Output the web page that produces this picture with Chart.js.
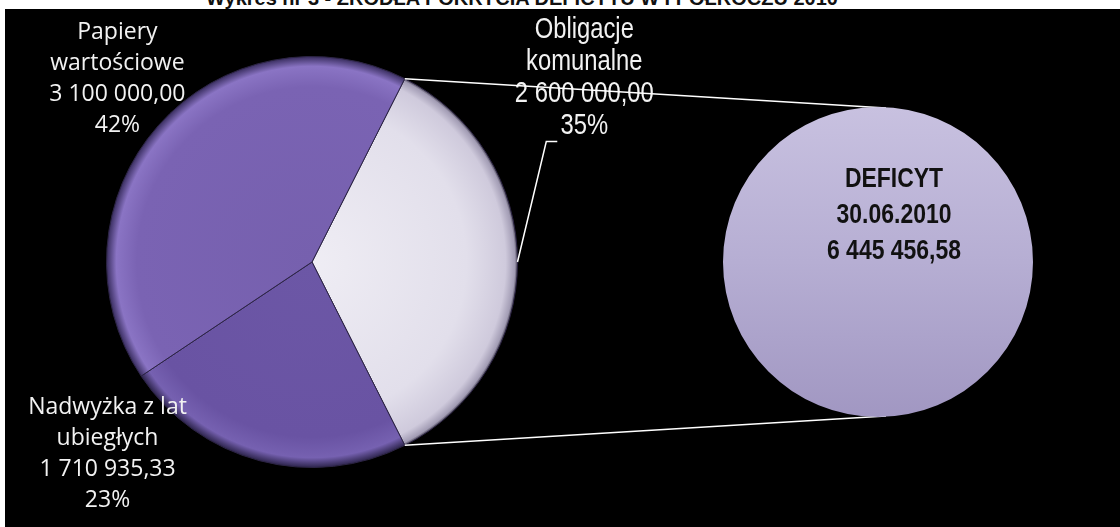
<!DOCTYPE html>
<html lang="pl">
<head>
<meta charset="utf-8">
<title>Źródła pokrycia deficytu</title>
<script src="https://cdn.jsdelivr.net/npm/chart.js@4.4.0/dist/chart.umd.min.js"></script>
<style>
  html, body { margin: 0; padding: 0; background: #fff; }
  #wrap { position: relative; width: 1120px; height: 527px; overflow: hidden; }
  #title { position: absolute; left: 0; width: 1044px; top: -13px; line-height: 20px;
           text-align: center; font: bold 20px "Liberation Sans", Arial, sans-serif; color: #111; }
  #panel { position: absolute; left: 5px; top: 9px; right: 0; bottom: 0; background: #000; }
  canvas { position: absolute; left: 0; top: 0; }
</style>
</head>
<body>
<div id="wrap">
  <div id="title">Wykres nr 3 - ŹRÓDŁA POKRYCIA DEFICYTU W I PÓŁROCZU 2010</div>
  <div id="panel"></div>
  <canvas id="pieCanvas" width="1120" height="527"></canvas>
  <canvas id="deficitCanvas" width="1120" height="527"></canvas>
</div>
<script>
// dane
const categories = ['Obligacje komunalne', 'Nadwyżka z lat ubiegłych', 'Papiery wartościowe'];
const labelLines = [['Obligacje', 'komunalne'], ['Nadwyżka z lat', 'ubiegłych'], ['Papiery', 'wartościowe']];
const amounts = [2600000.00, 1710935.33, 3100000.00];
const deficitLines = ['DEFICYT', '30.06.2010'];
const deficitAmount = [6445456.58];

const total = amounts.reduce((a, b) => a + b, 0);

function plNumber(v) {
    const parts = v.toFixed(2).split('.');
    return parts[0].replace(/\B(?=(\d{3})+(?!\d))/g, ' ') + ',' + parts[1];
}

// tekst "waski" - Liberation Sans sciesniony w poziomie
function drawText(ctx, t, x, y, sx) {
    ctx.save();
    ctx.translate(x, y);
    ctx.scale(sx, 1);
    ctx.fillText(t, 0, 0);
    ctx.restore();
}

// wyglad etykiet (pozycja wzgledem srodka kola, w promieniach)
const labelStyle = [
    { dx: 1.325, dy: -0.893, font: '29px "Liberation Sans", Arial, sans-serif', sx: 0.82, lineH: 32,
      leader: [[-38, 63], [-27, 63]] },
    { dx: -0.995, dy: 0.932, font: '23px "Open Sans", "Noto Sans", sans-serif', sx: 1, lineH: 31 },
    { dx: -0.947, dy: -0.893, font: '23px "Open Sans", "Noto Sans", sans-serif', sx: 1, lineH: 31 }
];

const sliceStops = [
    [[0, '#efedf4'], [0.75, '#e2dfeb'], [0.94, '#cfcadc'], [0.985, '#a29cb4'], [1, '#3a3645']],
    [[0, '#6c57a6'], [0.85, '#6953a3'], [0.95, '#7661b1'], [1, '#2a2248']],
    [[0, '#7660ae'], [0.85, '#7a63b3'], [0.95, '#8a74c4'], [1, '#352a5a']]
];

function sliceFill(context) {
    const chart = context.chart;
    const area = chart.chartArea;
    if (!area) return sliceStops[context.dataIndex][1][1];
    const cx = (area.left + area.right) / 2;
    const cy = (area.top + area.bottom) / 2;
    const r = Math.min(area.right - area.left, area.bottom - area.top) / 2;
    const g = chart.ctx.createRadialGradient(cx, cy, 0, cx, cy, r);
    sliceStops[context.dataIndex].forEach(s => g.addColorStop(s[0], s[1]));
    return g;
}

const labelsPlugin = {
    id: 'sliceLabels',
    afterDatasetsDraw(chart) {
        const ctx = chart.ctx;
        const meta = chart.getDatasetMeta(0);
        meta.data.forEach((arc, i) => {
            const st = labelStyle[i];
            const r = arc.outerRadius;
            const ax = arc.x + st.dx * r;
            const ay = arc.y + st.dy * r;
            const lines = labelLines[i].concat([plNumber(amounts[i]), Math.round(amounts[i] / total * 100) + '%']);
            ctx.save();
            ctx.fillStyle = '#f2f2f2';
            ctx.font = st.font;
            ctx.textAlign = 'center';
            ctx.textBaseline = 'middle';
            lines.forEach((t, k) => {
                drawText(ctx, t, ax, ay + (k - (lines.length - 1) / 2) * st.lineH, st.sx);
            });
            if (st.leader) {
                const mid = (arc.startAngle + arc.endAngle) / 2;
                ctx.strokeStyle = '#ffffff';
                ctx.lineWidth = 1.5;
                ctx.beginPath();
                ctx.moveTo(arc.x + Math.cos(mid) * r, arc.y + Math.sin(mid) * r);
                st.leader.forEach(p => ctx.lineTo(ax + p[0], ay + p[1]));
                ctx.stroke();
            }
            ctx.restore();
        });
    }
};

const pieChart = new Chart(document.getElementById('pieCanvas'), {
    type: 'pie',
    data: {
        labels: categories,
        datasets: [{
            data: amounts,
            backgroundColor: sliceFill,
            borderColor: '#2c2444',
            borderWidth: 1
        }]
    },
    options: {
        responsive: false,
        devicePixelRatio: 1,
        animation: false,
        rotation: 90 - (amounts[0] / total * 360) / 2,
        layout: { padding: { left: 106, right: 602, top: 56, bottom: 59 } },
        plugins: { legend: { display: false }, tooltip: { enabled: false } }
    },
    plugins: [labelsPlugin]
});

function deficitFill(context) {
    const chart = context.chart;
    const area = chart.chartArea;
    if (!area) return '#b6aed3';
    const g = chart.ctx.createLinearGradient(0, area.top, 0, area.bottom);
    g.addColorStop(0, '#c8c1e0');
    g.addColorStop(0.5, '#b6aed3');
    g.addColorStop(1, '#a197c2');
    return g;
}

const deficitPlugin = {
    id: 'deficit',
    beforeDatasetsDraw(chart) {
        // linie laczace wycinek z kolem deficytu
        const ctx = chart.ctx;
        const src = pieChart.getDatasetMeta(0).data[0];
        const dst = chart.getDatasetMeta(0).data[0];
        ctx.save();
        ctx.strokeStyle = '#ffffff';
        ctx.lineWidth = 1.5;
        ctx.beginPath();
        ctx.moveTo(src.x + Math.cos(src.startAngle) * src.outerRadius, src.y + Math.sin(src.startAngle) * src.outerRadius);
        ctx.lineTo(dst.x + 8, dst.y - dst.outerRadius + 1);
        ctx.moveTo(src.x + Math.cos(src.endAngle) * src.outerRadius, src.y + Math.sin(src.endAngle) * src.outerRadius);
        ctx.lineTo(dst.x + 8, dst.y + dst.outerRadius - 1);
        ctx.stroke();
        ctx.restore();
    },
    afterDatasetsDraw(chart) {
        const ctx = chart.ctx;
        const arc = chart.getDatasetMeta(0).data[0];
        const lines = deficitLines.concat([plNumber(deficitAmount[0])]);
        ctx.save();
        ctx.fillStyle = '#111';
        ctx.font = 'bold 28px "Liberation Sans", Arial, sans-serif';
        ctx.textAlign = 'center';
        ctx.textBaseline = 'middle';
        lines.forEach((t, k) => drawText(ctx, t, arc.x + 16, arc.y - 83 + k * 36, 0.82));
        ctx.restore();
    }
};

new Chart(document.getElementById('deficitCanvas'), {
    type: 'pie',
    data: {
        labels: ['Deficyt'],
        datasets: [{
            data: deficitAmount,
            backgroundColor: deficitFill,
            borderWidth: 0
        }]
    },
    options: {
        responsive: false,
        devicePixelRatio: 1,
        animation: false,
        layout: { padding: { left: 723, right: 87, top: 107, bottom: 110 } },
        plugins: { legend: { display: false }, tooltip: { enabled: false } }
    },
    plugins: [deficitPlugin]
});
</script>
</body>
</html>
